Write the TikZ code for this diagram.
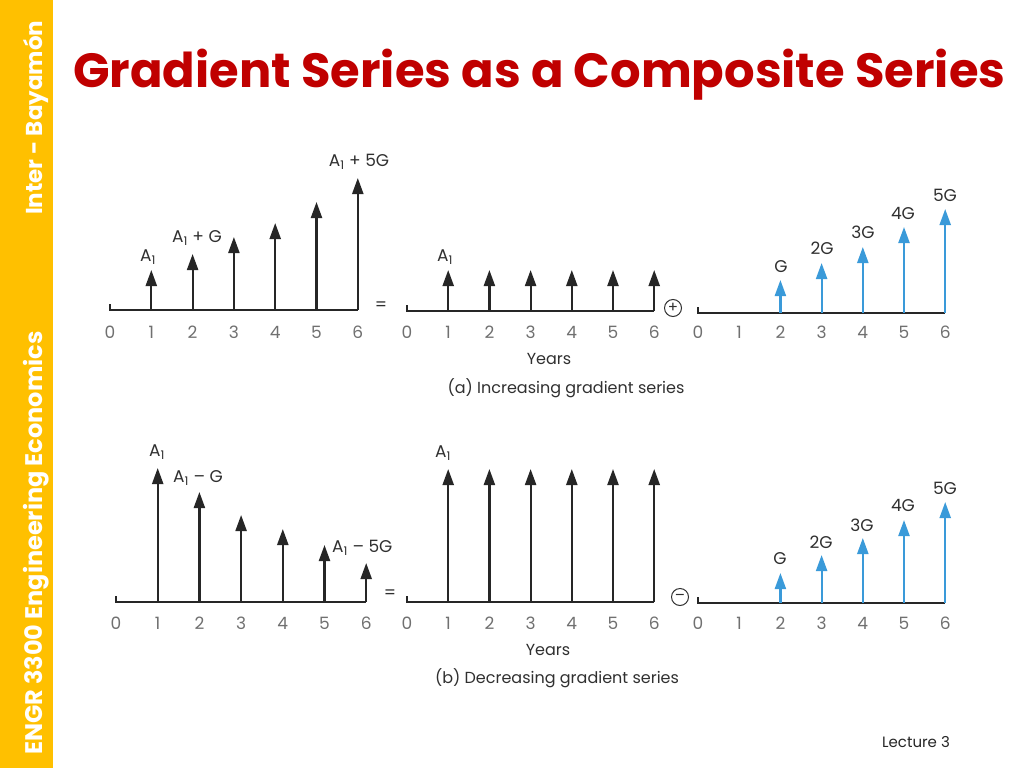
\documentclass[tikz,border=0pt]{standalone}
\usepackage{fontspec}
\setmainfont{Poppins}
\newfontfamily\pop{Poppins}
\usetikzlibrary{arrows.meta}
\definecolor{barY}{HTML}{FFC000}
\definecolor{titleR}{HTML}{C00000}
\definecolor{gblue}{HTML}{3A9AD9}
\definecolor{numg}{HTML}{707070}
\definecolor{labg}{HTML}{303030}
\tikzset{
  axisline/.style={line width=2pt, draw=black!85},
  flow/.style={line width=2.2pt, draw=black!85, -{Triangle[width=11pt,length=16pt]}},
  bflow/.style={line width=2.2pt, draw=gblue, -{Triangle[width=11pt,length=16pt]}},
  num/.style={font=\pop\fontsize{17}{17}\selectfont, text=numg, inner sep=0pt},
  lab/.style={font=\pop\fontsize{17}{17}\selectfont, text=labg, inner sep=0pt},
  captxt/.style={font=\pop\fontsize{16}{16}\selectfont, text=labg, inner sep=0pt},
  opcirc/.style={circle, draw=labg, line width=1pt, minimum size=17pt, inner sep=0pt, font=\pop\fontsize{15}{15}\selectfont, text=labg},
}
% \mkaxis{prefix}{x0}{dx}{axisY}{numY}
\newcommand{\mkaxis}[5]{%
  \foreach \k in {0,...,6}{%
    \coordinate (#1b\k) at ({#2+\k*#3},#4);
    \node[num] (#1n\k) at ({#2+\k*#3},#5) {\k};
  }
  \coordinate (#1tk) at (#2,{#4-6});
  \draw[axisline] (#1tk) -- (#1b0) -- (#1b6);
}
\begin{document}
\begin{tikzpicture}[x=1pt,y=-1pt]
\useasboundingbox (0,0) rectangle (1024,768);
\fill[white] (0,0) rectangle (1024,768);
% side bar
\fill[barY] (0,0) rectangle (53,768);
\node[rotate=90, anchor=west, text=white, font=\pop\bfseries\fontsize{24}{24}\selectfont, inner sep=0pt] (side1) at (36,755) {ENGR 3300 Engineering Economics};
\node[rotate=90, anchor=west, text=white, font=\pop\bfseries\fontsize{23}{23}\selectfont, inner sep=0pt] (side2) at (36,215) {Inter - Bayamón};
% title
\node[anchor=base west, text=titleR, font=\pop\bfseries\fontsize{48}{48}\selectfont, inner sep=0pt] (title) at (73,87) {Gradient Series as a Composite Series};
% footer
\node[font=\pop\fontsize{15}{15}\selectfont, text=black!85, inner sep=0pt] (lect) at (916,742) {Lecture 3};

% ---------- (a) ----------
\mkaxis{aA}{110}{41.3}{310}{332}
\mkaxis{aB}{407}{41.2}{311}{332}
\mkaxis{aC}{698}{41.2}{313}{332}
\foreach \k/\t in {1/270,2/254,3/237,4/223,5/202,6/178}{
  \coordinate (aAt\k) at ({110+\k*41.3},\t);
  \draw[flow] (aAb\k) -- (aAt\k);
}
\foreach \k in {1,...,6}{
  \coordinate (aBt\k) at ({407+\k*41.2},270);
  \draw[flow] (aBb\k) -- (aBt\k);
}
\foreach \k/\t in {2/280,3/263,4/247,5/227,6/209}{
  \coordinate (aCt\k) at ({698+\k*41.2},\t);
  \draw[bflow] (aCb\k) -- (aCt\k);
}
\node[lab] (aL1) at (148,257) {A\textsubscript{1}};
\node[lab] (aL2) at (197,238) {A\textsubscript{1} + G};
\node[lab] (aL3) at (359,162) {A\textsubscript{1} + 5G};
\node[lab] (aL4) at (445,257) {A\textsubscript{1}};
\node[lab] (aG2) at (781,267) {G};
\node[lab] (aG3) at (822,248) {2G};
\node[lab] (aG4) at (863,232) {3G};
\node[lab] (aG5) at (903,213) {4G};
\node[lab] (aG6) at (945,195) {5G};
\node[lab] (aeq) at (381,306) {=};
\node[opcirc] (aplus) at (673,308) {+};
\node[captxt] (ayears) at (549,359) {Years};
\node[captxt] (acap) at (566,388) {(a) Increasing gradient series};

% ---------- (b) ----------
\mkaxis{bA}{116}{41.7}{602}{623}
\mkaxis{bB}{407}{41.2}{602}{623}
\mkaxis{bC}{698}{41.2}{603}{623}
\foreach \k/\t in {1/468,2/492,3/515,4/529,5/545,6/563}{
  \coordinate (bAt\k) at ({116+\k*41.7},\t);
  \draw[flow] (bAb\k) -- (bAt\k);
}
\foreach \k in {1,...,6}{
  \coordinate (bBt\k) at ({407+\k*41.2},469);
  \draw[flow] (bBb\k) -- (bBt\k);
}
\foreach \k/\t in {2/573,3/555,4/538,5/520,6/502}{
  \coordinate (bCt\k) at ({698+\k*41.2},\t);
  \draw[bflow] (bCb\k) -- (bCt\k);
}
\node[lab] (bL1) at (157,452) {A\textsubscript{1}};
\node[lab, anchor=west] (bL2) at (173,478) {A\textsubscript{1} – G};
\node[lab, anchor=west] (bL3) at (332,548) {A\textsubscript{1} – 5G};
\node[lab] (bL4) at (443,453) {A\textsubscript{1}};
\node[lab] (bG2) at (780,559) {G};
\node[lab] (bG3) at (821,542) {2G};
\node[lab] (bG4) at (862,525) {3G};
\node[lab] (bG5) at (903,505) {4G};
\node[lab] (bG6) at (945,488) {5G};
\node[lab] (beq) at (390,594) {=};
\node[opcirc] (bminus) at (680,597) {–};
\node[captxt] (byears) at (548,650) {Years};
\node[captxt] (bcap) at (557,678) {(b) Decreasing gradient series};
\end{tikzpicture}
\end{document}
